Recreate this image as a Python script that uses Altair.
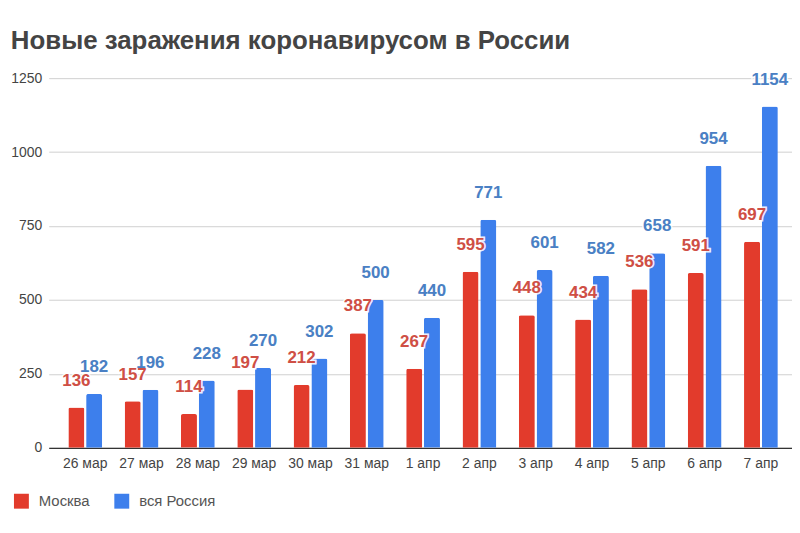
import altair as alt
import pandas as pd

dates = ["26 мар", "27 мар", "28 мар", "29 мар", "30 мар", "31 мар", "1 апр",
         "2 апр", "3 апр", "4 апр", "5 апр", "6 апр", "7 апр"]
moscow = [136, 157, 114, 197, 212, 387, 267, 595, 448, 434, 536, 591, 697]
russia = [182, 196, 228, 270, 302, 500, 440, 771, 601, 582, 658, 954, 1154]
series = ["Москва", "вся Россия"]

rows = []
for d, m, r in zip(dates, moscow, russia):
    rows.append({"date": d, "series": series[0], "value": m})
    rows.append({"date": d, "series": series[1], "value": r})
df = pd.DataFrame(rows)

bar_colors = ["#e23b2c", "#3d7fec"]
text_colors = ["#cf4f45", "#4a80c4"]
FONT = "Liberation Sans"

x = alt.X("date:N", sort=dates, title=None,
          scale=alt.Scale(paddingInner=0.4, paddingOuter=0.3, align=0.58),
          axis=alt.Axis(labelAngle=0, labelFontSize=14, labelColor="#444",
                        labelFont=FONT, ticks=False, domainColor="#333",
                        domainWidth=1.2, labelPadding=9))
y = alt.Y("value:Q", title=None,
          scale=alt.Scale(domain=[0, 1250]),
          axis=alt.Axis(values=[0, 250, 500, 750, 1000, 1250], format="d",
                        labelFontSize=14, labelColor="#444", labelFont=FONT,
                        domain=False, ticks=False, gridColor="#d0d0d0",
                        labelPadding=7))
xo = alt.XOffset("series:N", sort=series,
                 scale=alt.Scale(paddingInner=0.1))

base = alt.Chart(df)

bars = base.mark_bar(cornerRadiusTopLeft=2, cornerRadiusTopRight=2).encode(
    x=x, y=y, xOffset=xo,
    color=alt.Color("series:N", sort=series,
                    scale=alt.Scale(domain=series, range=bar_colors),
                    legend=alt.Legend(title=None, orient="none", legendX=-35,
                                      legendY=418, direction="horizontal",
                                      symbolType="square", symbolSize=225,
                                      labelFontSize=15, labelColor="#555",
                                      labelFont=FONT, columnPadding=24,
                                      labelOffset=10, symbolStrokeWidth=0)),
)

text_kw = dict(fontSize=17, fontWeight="bold", font=FONT,
               baseline="alphabetic", dy=-22)
text_enc = dict(
    x=x, y=y, xOffset=xo, text="value:Q",
    color=alt.Color("series:N", sort=series,
                    scale=alt.Scale(domain=series, range=text_colors),
                    legend=None),
)
labels_halo = base.mark_text(stroke="white", strokeWidth=3, strokeOpacity=0.9,
                             **text_kw).encode(**text_enc)
labels_fill = base.mark_text(**text_kw).encode(**text_enc)

chart = alt.layer(bars, labels_halo, labels_fill).resolve_scale(color="independent").properties(
    width=748, height=372,
    padding={"left": 2, "top": 18, "right": 0, "bottom": 0},
    title=alt.TitleParams("Новые заражения коронавирусом в России", anchor="start",
                          frame="bounds", fontSize=26, fontWeight="bold",
                          font=FONT, color="#444", offset=17),
).configure_view(stroke=None)

chart.save("out.html", embed_options={"renderer": "svg", "actions": False})
